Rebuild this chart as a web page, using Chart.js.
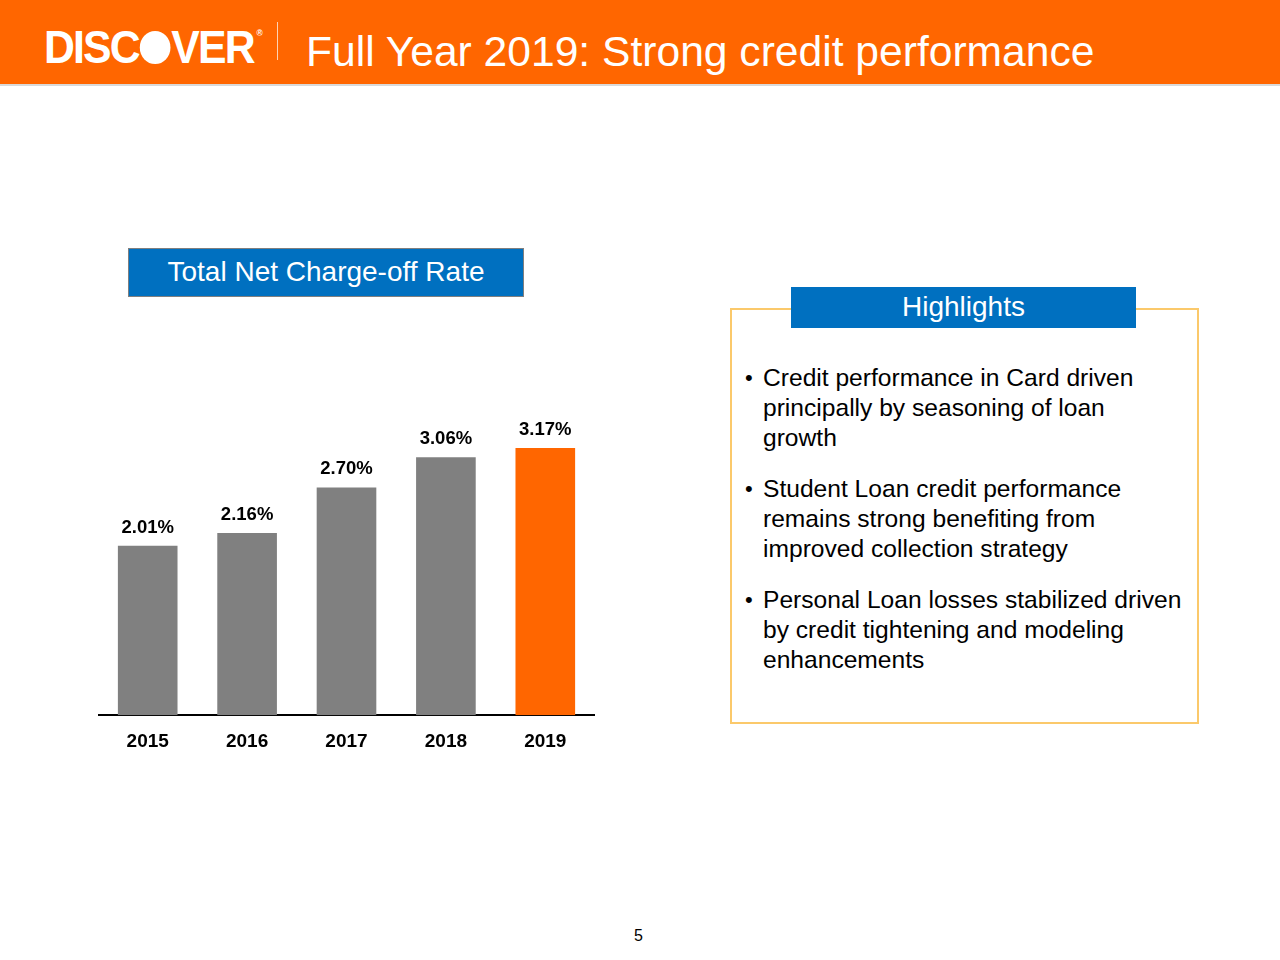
<!DOCTYPE html>
<html>
<head>
<meta charset="utf-8">
<script src="https://cdn.jsdelivr.net/npm/chart.js@4/dist/chart.umd.min.js"></script>
<style>
  html, body { margin: 0; padding: 0; background: #fff; }
  body { width: 1280px; height: 960px; position: relative; overflow: hidden; font-family: "Liberation Sans", Arial, sans-serif; }
  .header { position: absolute; left: 0; top: 0; width: 1280px; height: 84px; background: #ff6600; border-bottom: 2px solid #d9d9d9; }
  .logo { position: absolute; left: 44px; top: 10px; color: #fff; font-weight: bold; font-size: 46px; letter-spacing: -2px; line-height: 46px; white-space: nowrap; transform: scaleX(0.93); transform-origin: left; }
  .logo .o { display: inline-block; width: 33px; height: 33px; border-radius: 50%; background: #fff; vertical-align: -1px; margin: 0 1px; }
  .logo sup { font-size: 9px; vertical-align: 27px; margin-left: 3px; letter-spacing: 0; }
  .sep { position: absolute; left: 277px; top: 22px; width: 1px; height: 38px; background: #ffd2b3; }
  .title { position: absolute; left: 306px; top: 27px; color: #fff; font-size: 42.6px; line-height: 48px; white-space: nowrap; }
  .chartTitle { position: absolute; left: 128px; top: 248px; width: 394px; height: 47px; background: #0070c0; border: 1px solid #7f7f7f; color: #fff; font-size: 28px; line-height: 45px; text-align: center; }
  .hlBox { position: absolute; left: 730px; top: 308px; width: 465px; height: 412px; border: 2px solid #fbc96b; }
  .hlHead { position: absolute; left: 791px; top: 287px; width: 345px; height: 41px; background: #0070c0; color: #fff; font-size: 28px; line-height: 39px; text-align: center; }
  .bullets { position: absolute; left: 745px; top: 363px; margin: 0; padding: 0; list-style: none; font-size: 24.6px; line-height: 30px; color: #000; white-space: nowrap; }
  .bullets li { position: relative; padding-left: 18px; margin-bottom: 21px; }
  .bullets li::before { content: "\2022"; position: absolute; left: 0; top: 0; font-size: 22px; }
  .pageNum { position: absolute; left: 634px; top: 927px; font-size: 16px; color: #000; }
  #chartWrap { position: absolute; left: 98px; top: 378px; width: 497px; height: 390px; }
</style>
</head>
<body>
<div class="header">
  <div class="logo">DISC<span class="o"></span>VER<sup>®</sup></div>
  <div class="sep"></div>
  <div class="title">Full Year 2019: Strong credit performance</div>
</div>

<div class="chartTitle">Total Net Charge-off Rate</div>
<div id="chartWrap"><canvas id="chart"></canvas></div>

<div class="hlBox"></div>
<div class="hlHead">Highlights</div>
<ul class="bullets">
  <li>Credit performance in Card driven<br>principally by seasoning of loan<br>growth</li>
  <li>Student Loan credit performance<br>remains strong benefiting from<br>improved collection strategy</li>
  <li>Personal Loan losses stabilized driven<br>by credit tightening and modeling<br>enhancements</li>
</ul>

<div class="pageNum">5</div>

<script>
const years = ['2015', '2016', '2017', '2018', '2019']
const chargeOffRates = [2.01, 2.16, 2.70, 3.06, 3.17]
const barColors = ['#808080', '#808080', '#808080', '#808080', '#ff6600']

const valueLabels = {
  id: 'valueLabels',
  afterDatasetsDraw(chart) {
    const { ctx } = chart
    const meta = chart.getDatasetMeta(0)
    ctx.save()
    ctx.font = 'bold 18.5px "Liberation Sans", Arial, sans-serif'
    ctx.fillStyle = '#000'
    ctx.textAlign = 'center'
    ctx.textBaseline = 'bottom'
    meta.data.forEach((bar, i) => {
      ctx.fillText(chargeOffRates[i].toFixed(2) + '%', bar.x, bar.y - 9)
    })
    ctx.restore()
  },
}

const ctx = document.getElementById('chart').getContext('2d')
new Chart(ctx, {
  type: 'bar',
  data: {
    labels: years,
    datasets: [
      {
        data: chargeOffRates,
        backgroundColor: barColors,
        barPercentage: 0.6,
        categoryPercentage: 1,
      },
    ],
  },
  options: {
    responsive: true,
    maintainAspectRatio: false,
    animation: false,
    layout: { padding: 0 },
    plugins: {
      legend: { display: false },
      tooltip: { enabled: false },
    },
    scales: {
      x: {
        grid: { display: false, drawTicks: false },
        border: { display: true, color: '#000', width: 2 },
        ticks: {
          color: '#000',
          padding: 15,
          font: { family: '"Liberation Sans", Arial, sans-serif', size: 19, weight: 'bold' },
        },
      },
      y: {
        display: false,
        min: 0,
        max: 4,
      },
    },
  },
  plugins: [valueLabels],
})
</script>
</body>
</html>
